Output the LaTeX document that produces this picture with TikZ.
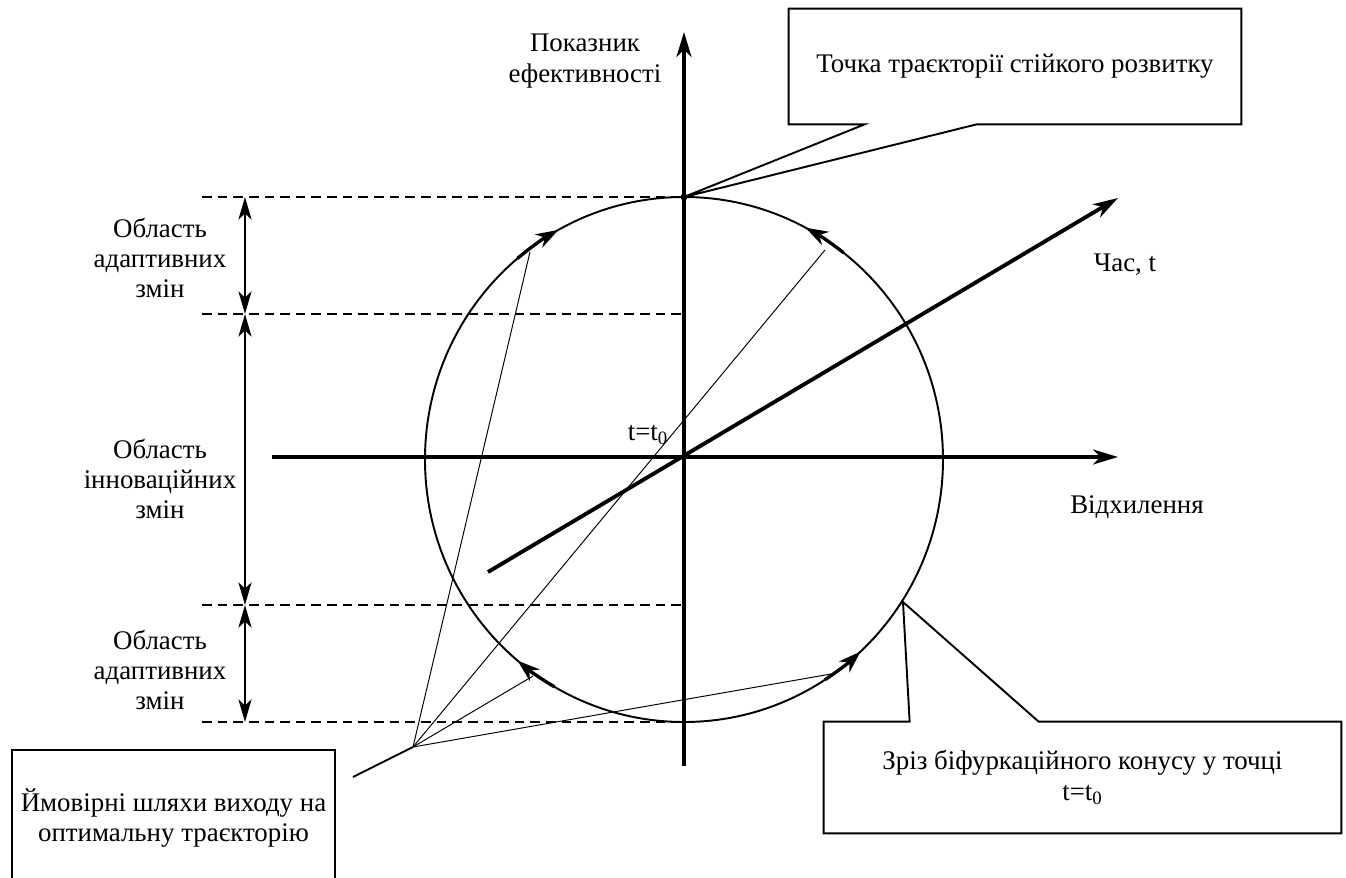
\documentclass[tikz,border=0pt]{standalone}
\usepackage{fontspec}
\setmainfont{Liberation Serif}
\usetikzlibrary{positioning, arrows.meta, calc}

\begin{document}
\begin{tikzpicture}[
    txt/.style={font=\fontsize{15.3}{17.3}\selectfont, align=center, inner sep=0pt},
    axis/.style={line width=2.2pt, -{Stealth[length=0.5cm, width=0.3cm, inset=0.15cm]}},
    curve/.style={line width=1.1pt},
    flow/.style={line width=1.9pt, -{Stealth[length=0.45cm, width=0.3cm, inset=0.14cm]}},
    guide/.style={line width=1.1pt, dash pattern=on 5.5pt off 3.4pt},
    span/.style={line width=1.6pt, {Stealth[length=0.45cm, width=0.26cm, inset=0.12cm]}-{Stealth[length=0.45cm, width=0.26cm, inset=0.12cm]}},
    boxline/.style={line width=1.1pt},
    lead/.style={line width=1.1pt},
    thin/.style={line width=0.55pt},
]
\path[use as bounding box, clip] (-13.68,-8.4) rectangle (13.24,9.14);

% Axes
\coordinate (ybot) at (0,-6.18);
\coordinate (ytop) at (0,8.5);
\coordinate (xbeg) at (-8.24,0);
\coordinate (xend) at (8.68,0);
\coordinate (tbeg) at (-3.92,-2.3);
\coordinate (tend) at (8.68,5.18);
\draw[axis] (ybot) -- (ytop);
\draw[axis] (xbeg) -- (xend);
\draw[axis] (tbeg) -- (tend);

\node[txt] (ylab) at (-1.98,7.92) {Показник\\ефективності};
\node[txt] (tlab) at (8.82,3.84) {Час, t};
\node[txt] (tzero) at (-0.72,0.44) {t=t\textsubscript{0}};
\node[txt] (xlab) at (9.06,-1.0) {Відхилення};

% Bifurcation cone cut
\draw[curve] (0,-0.05) ellipse [x radius=5.18, y radius=5.25];
\coordinate (sp) at (0,5.2);
\fill (sp) circle (0.07);

% Regions
\foreach \n/\y in {a/5.2, b/2.86, c/-2.96, d/-5.3} {
    \coordinate (l\n) at (-9.64,\y);
    \coordinate (r\n) at (0,\y);
    \coordinate (m\n) at (-8.78,\y);
    \draw[guide] (l\n) -- (r\n);
}
\foreach \p/\q in {a/b, b/c, c/d} {
    \draw[span] (m\p) -- (m\q);
}
\foreach \n/\y/\w in {1/3.98/адаптивних, 2/-0.44/інноваційних, 3/-4.26/адаптивних} {
    \node[txt] (reg\n) at (-10.48,\y) {Область\\\w\\змін};
}

% Movement along the cut
\foreach \a/\b in {130/119, 52/62, 240/230, 303/313} {
    \draw[flow] (0,-0.05) ++(\a:5.18 and 5.25) arc[start angle=\a, end angle=\b, x radius=5.18, y radius=5.25];
}

% Callouts
\node[txt, minimum width=9.04cm, minimum height=2.3cm] (cb1) at (6.62,7.81) {Точка траєкторії стійкого розвитку};
\draw[boxline] (cb1.south west) |- (cb1.north east) |- ([xshift=3.76cm]cb1.south west) -- (sp) -- ([xshift=1.52cm]cb1.south west) -- cycle;

\coordinate (bp) at (4.38,-2.9);
\node[txt, minimum width=10.34cm, minimum height=2.22cm] (cb2) at (7.97,-6.41) {Зріз біфуркаційного конусу у точці\\t=t\textsubscript{0}};
\draw[boxline] (cb2.south west) |- ([xshift=1.72cm]cb2.north west) -- (bp) -- ([xshift=4.3cm]cb2.north west) -| (cb2.south east) -- cycle;

\node[txt, draw, boxline, minimum width=6.46cm, minimum height=2.72cm] (cb3) at (-10.21,-7.22) {Ймовірні шляхи виходу на\\оптимальну траєкторію};
\coordinate (ps) at (-5.42,-5.8);
\coordinate (pe) at (-6.62,-6.4);
\draw[lead] (pe) -- (ps);

\coordinate (ea) at (-3.08,4.1);
\coordinate (eb) at (2.82,4.14);
\coordinate (ec) at (-3.02,-4.38);
\coordinate (ed) at (2.94,-4.34);
\foreach \c in {ea,eb,ec,ed} {
    \draw[thin] (ps) -- (\c);
}

\end{tikzpicture}
\end{document}
